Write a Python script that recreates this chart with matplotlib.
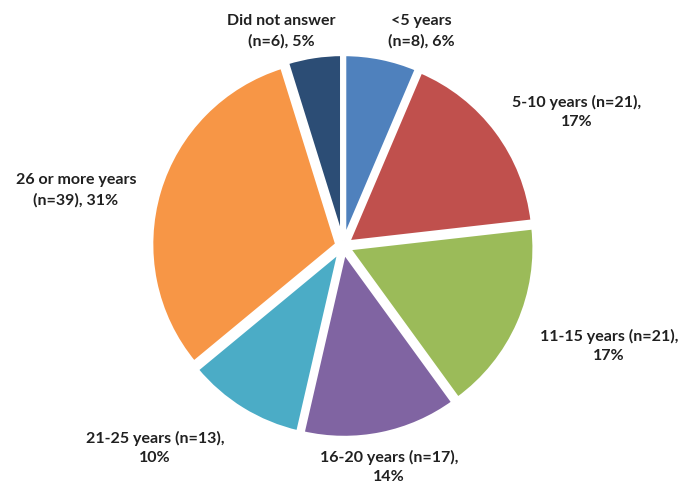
import matplotlib.pyplot as plt

labels = ['<5 years', '5-10 years', '11-15 years', '16-20 years',
          '21-25 years', '26 or more years', 'Did not answer']
counts = [8, 21, 21, 17, 13, 39, 6]
label_texts = ['<5 years\n(n=8), 6%', '5-10 years (n=21),\n17%',
               '11-15 years (n=21),\n17%', '16-20 years (n=17),\n14%',
               '21-25 years (n=13),\n10%', '26 or more years\n(n=39), 31%',
               'Did not answer\n(n=6), 5%']
colors = ['#4F81BD', '#C0504D', '#9BBB59', '#8064A2',
          '#4BACC6', '#F79646', '#2C4D75']
# label centres in pixel coords (from top-left)
label_pos = [(421, 31), (577, 112), (609, 346), (389, 467),
             (155, 448), (76, 190), (281, 31)]

plt.rcParams['font.family'] = ['Lato', 'DejaVu Sans']

fig = plt.figure(figsize=(6.86, 4.88), dpi=100)
ax = fig.add_axes([0, 0, 1, 1])

# y axis is inverted, so counterclock=True draws clockwise on screen
# explode is in data (pixel) units here
ax.pie(counts, colors=colors, startangle=-90, counterclock=True,
       center=(343, 246), radius=186, explode=[6] * len(counts),
       wedgeprops=dict(edgecolor='white', linewidth=3), frame=True)
ax.set_xlim(0, 686)
ax.set_ylim(488, 0)
ax.set_aspect('equal')
ax.axis('off')

for txt, (x, y) in zip(label_texts, label_pos):
    ax.text(x, y, txt, ha='center', va='center', fontsize=11.5,
            fontweight='bold', color='#202020', linespacing=1.5)

fig.savefig('out.png', dpi=100)
